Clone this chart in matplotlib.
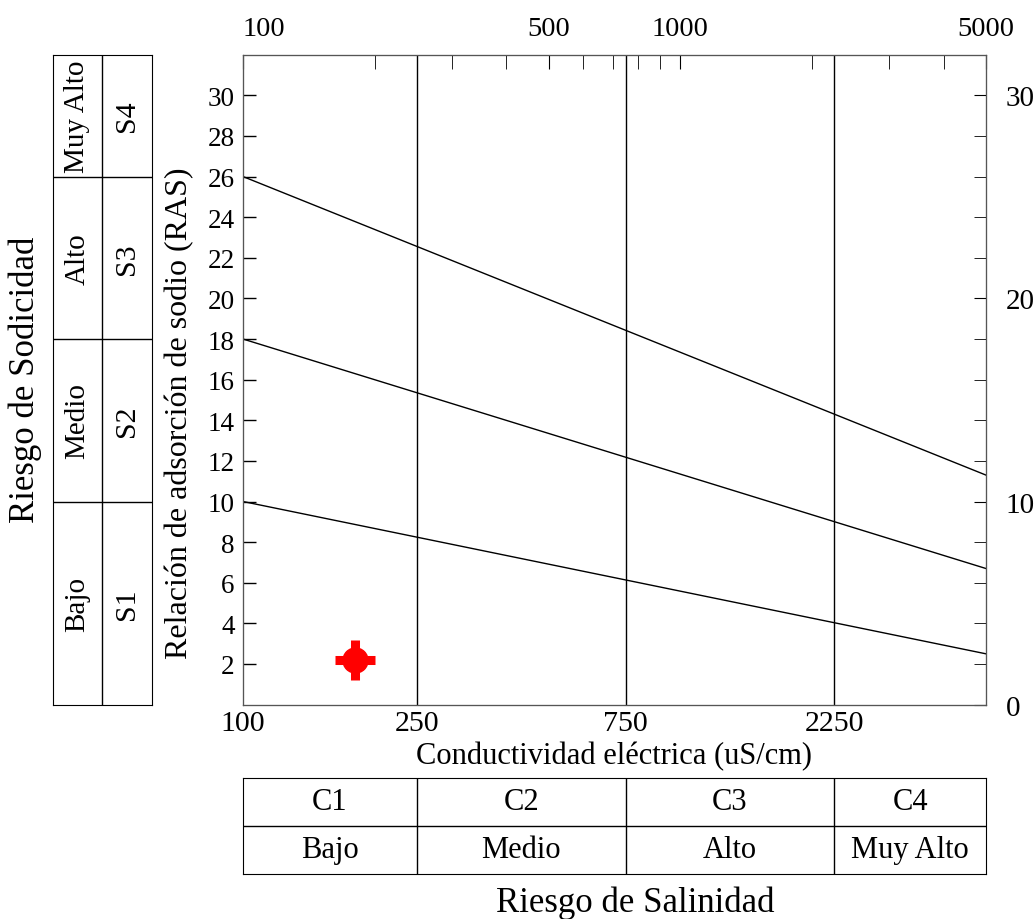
import matplotlib
matplotlib.use('Agg')
import matplotlib.pyplot as plt
from matplotlib.ticker import FixedLocator, NullFormatter, NullLocator

plt.rcParams['font.family'] = ['Liberation Serif', 'DejaVu Serif']

# datos
ce_lim = [100, 5000]
ras_lim = [0, 32]
ce_limites = [250, 750, 2250]
ce_ticks_abajo = [100, 250, 750, 2250]
ce_ticks_arriba = [100, 500, 1000, 5000]
ce_menores_arriba = [200, 300, 400, 600, 700, 800, 900, 2000, 3000, 4000]
ras_ticks = list(range(2, 31, 2))
ras_ticks_der = [0, 10, 20, 30]
# lineas de separacion de sodicidad: valor de RAS en 100 y en 5000 uS/cm
linea_ce = [100, 5000]
linea_s3s4 = [26, 11.3]
linea_s2s3 = [18, 6.7]
linea_s1s2 = [10, 2.5]
ras_limites = [10, 18, 26]
# muestra
muestra_ce = [180]
muestra_ras = [2.2]
# clases
clases_c = ['C1', 'C2', 'C3', 'C4']
riesgo_c = ['Bajo', 'Medio', 'Alto', 'Muy Alto']
clases_s = ['S1', 'S2', 'S3', 'S4']
riesgo_s = ['Bajo', 'Medio', 'Alto', 'Muy Alto']

W, H = 1036, 920
fig = plt.figure(figsize=(W / 100, H / 100), dpi=100)

gris = '#555555'

# grafico principal
ax = fig.add_axes([243 / W, (920 - 705.6) / H, 743 / W, 649.9 / H])
ax.set_xscale('log')
ax.set_xlim(ce_lim)
ax.set_ylim(ras_lim)
for c in ce_limites:
    ax.axvline(c, color='black', lw=1)
for ys in (linea_s3s4, linea_s2s3, linea_s1s2):
    ax.plot(linea_ce, ys, color='black', lw=1)
ax.plot(muestra_ce, muestra_ras, 'o', color='red', ms=18, zorder=5)
ax.plot(muestra_ce, muestra_ras, '+', color='red', ms=29, mew=6.5, zorder=5)

ax.xaxis.set_major_locator(FixedLocator(ce_ticks_abajo))
ax.xaxis.set_minor_locator(NullLocator())
ax.set_xticklabels([str(v) for v in ce_ticks_abajo])
ax.tick_params(axis='x', length=0, pad=4, labelsize=21.5)
ax.set_yticks(ras_ticks)
ax.tick_params(axis='y', direction='in', length=9, pad=6, labelsize=19.5, width=1)
ax.set_xlabel('Conductividad eléctrica (uS/cm)', fontsize=22, va='center')
ax.xaxis.set_label_coords(0.5, -(757 - 705.6) / 649.9)
ax.set_ylabel('Relación de adsorción de sodio (RAS)', fontsize=23, va='center')
ax.yaxis.set_label_coords(-(243 - 180) / 743, (705.6 - 413) / 649.9)
for s in ax.spines.values():
    s.set_color(gris)

# eje superior
axt = ax.twiny()
axt.set_xscale('log')
axt.set_xlim(ce_lim)
axt.xaxis.set_major_locator(FixedLocator(ce_ticks_arriba))
axt.xaxis.set_minor_locator(FixedLocator(ce_menores_arriba))
axt.xaxis.set_minor_formatter(NullFormatter())
axt.set_xticklabels([str(v) for v in ce_ticks_arriba])
axt.tick_params(axis='x', which='both', direction='in', length=10, pad=10, labelsize=20.5)
lbls = axt.get_xticklabels()
lbls[0].set_ha('left')

# eje derecho
axr = ax.twinx()
axr.set_ylim(ras_lim)
axr.yaxis.set_major_locator(FixedLocator(ras_ticks_der))
axr.yaxis.set_minor_locator(FixedLocator(ras_ticks))
axr.tick_params(axis='y', which='both', direction='in', length=9, pad=14, labelsize=21)
for a in (axt, axr):
    for s in a.spines.values():
        s.set_color(gris)

# tabla de sodicidad (izquierda)
axs = fig.add_axes([52.7 / W, (920 - 705.6) / H, 99 / W, 649.9 / H])
axs.set_xlim(0, 2)
axs.set_ylim(ras_lim)
axs.set_xticks([])
axs.set_yticks([])
axs.axvline(1, color='black', lw=1)
for r in ras_limites:
    axs.axhline(r, color='black', lw=1)
bordes_s = [0] + ras_limites + [ras_lim[1]]
for i in range(4):
    yc = (bordes_s[i] + bordes_s[i + 1]) / 2
    axs.text(0.5, yc, riesgo_s[i], rotation=90, ha='center', va='center', fontsize=21)
    axs.text(1.5, yc, clases_s[i], rotation=90, ha='center', va='center', fontsize=21.5)
fig.text(25 / W, 1 - 380 / H, 'Riesgo de Sodicidad', rotation=90, ha='center', va='center', fontsize=25)

# tabla de salinidad (abajo)
axc = fig.add_axes([243 / W, (920 - 875) / H, 743 / W, 96 / H])
axc.set_xscale('log')
axc.set_xlim(ce_lim)
axc.set_ylim(0, 2)
axc.xaxis.set_major_locator(NullLocator())
axc.xaxis.set_minor_locator(NullLocator())
axc.set_yticks([])
for c in ce_limites:
    axc.axvline(c, color='black', lw=1)
axc.axhline(1, color='black', lw=1)
bordes_c = [ce_lim[0]] + ce_limites + [ce_lim[1]]
for i in range(4):
    xc = (bordes_c[i] * bordes_c[i + 1]) ** 0.5
    axc.text(xc, 1.5, clases_c[i], ha='center', va='center', fontsize=22)
    axc.text(xc, 0.5, riesgo_c[i], ha='center', va='center', fontsize=22)
fig.text(635 / W, 1 - 903 / H, 'Riesgo de Salinidad', ha='center', va='center', fontsize=25)

fig.savefig('out.png', dpi=100)
